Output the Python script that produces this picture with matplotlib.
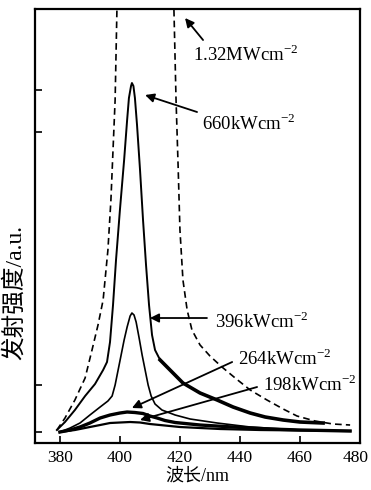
import matplotlib
matplotlib.use('Agg')
import matplotlib.pyplot as plt
from matplotlib.transforms import ScaledTranslation

plt.rcParams['font.family'] = ['Liberation Serif', 'Noto Sans CJK SC']
plt.rcParams['mathtext.fontset'] = 'custom'
plt.rcParams['mathtext.rm'] = 'Liberation Serif'

# spectra (wavelength nm, intensity a.u.)
wl_1320 = [379.0, 381.7, 385.0, 388.4, 390.7, 392.7, 394.4, 396.0, 397.0, 398.4, 399.0,
           405.0,
           418.0, 418.7, 419.4, 420.0, 421.0, 422.4, 424.0, 426.7, 430.0, 434.0, 438.4,
           443.4, 449.0, 454.4, 459.0, 465.0, 471.0, 476.7]
i_1320 = [0.02, 0.14, 0.32, 0.54, 0.82, 1.07, 1.32, 1.82, 2.32, 3.32, 4.22,
          9.0,
          4.22, 3.32, 2.65, 2.02, 1.52, 1.22, 1.02, 0.87, 0.76, 0.65, 0.54,
          0.42, 0.32, 0.23, 0.16, 0.11, 0.08, 0.07]

wl_660 = [379.0, 381.7, 385.0, 388.4, 391.7, 394.4, 395.7, 396.7, 397.7, 398.7, 400.0,
          401.4, 402.4, 403.0, 403.7, 404.0, 404.5, 405.0, 405.7, 406.7, 407.7, 408.7,
          409.7, 410.7, 411.7, 413.4,
          416.7, 421.0, 426.7, 432.4, 437.7, 443.4, 448.4, 454.4, 460.0, 467.7]
i_660 = [0.02, 0.10, 0.22, 0.36, 0.48, 0.62, 0.70, 0.90, 1.27, 1.72, 2.22,
         2.72, 3.12, 3.34, 3.46, 3.49, 3.46, 3.34, 3.07, 2.62, 2.12, 1.67,
         1.27, 0.97, 0.82, 0.72,
         0.62, 0.49, 0.39, 0.32, 0.25, 0.19, 0.15, 0.12, 0.10, 0.09]

wl_396 = [380.0, 383.4, 386.7, 390.0, 393.4, 396.0, 397.4, 398.4, 399.4, 400.4, 401.4,
          402.4, 403.4, 404.0, 404.7, 405.4, 406.4, 407.4, 408.4, 409.4, 410.4, 411.7,
          414.0, 418.4, 423.4, 432.4, 443.4, 460.0, 476.7]
i_396 = [0.0, 0.04, 0.09, 0.17, 0.25, 0.31, 0.36, 0.47, 0.62, 0.77, 0.92,
         1.05, 1.16, 1.19, 1.17, 1.10, 0.94, 0.77, 0.62, 0.47, 0.36, 0.28,
         0.22, 0.17, 0.13, 0.09, 0.05, 0.02, 0.01]

wl_264 = [380.0, 383.4, 386.7, 390.0, 393.4, 396.7, 400.0, 402.4, 405.0, 407.7, 410.0,
          412.4, 415.0, 418.4, 426.7, 437.7, 450.0, 460.0, 476.7]
i_264 = [0.0, 0.02, 0.05, 0.09, 0.14, 0.17, 0.19, 0.20, 0.195, 0.185, 0.16,
         0.14, 0.115, 0.095, 0.07, 0.05, 0.03, 0.02, 0.01]

wl_198 = [380.0, 385.0, 390.0, 393.4, 396.7, 400.0, 403.4, 406.7, 410.0, 415.0, 420.0,
          433.4, 446.7, 476.7]
i_198 = [0.0, 0.02, 0.05, 0.07, 0.09, 0.095, 0.10, 0.095, 0.08, 0.065, 0.05,
         0.03, 0.02, 0.01]

labels = ['1.32MWcm$^{\\mathrm{-2}}$', '660kWcm$^{\\mathrm{-2}}$', '396kWcm$^{\\mathrm{-2}}$',
          '264kWcm$^{\\mathrm{-2}}$', '198kWcm$^{\\mathrm{-2}}$']
label_pos = [(424.4, 3.77), (427.4, 3.08), (431.7, 1.10), (439.4, 0.73), (447.7, 0.47)]
arrow_tail = [(427.7, 3.92), (425.7, 3.20), (429.0, 1.14), (437.4, 0.70), (445.7, 0.45)]
arrow_head = [(421.7, 4.14), (408.4, 3.37), (410.0, 1.14), (404.0, 0.24), (406.7, 0.12)]

xticks = [380, 400, 420, 440, 460, 480]
yticks = [0, 0.47, 3.0, 3.42]

fig = plt.figure(figsize=(3.71, 4.90), dpi=100)
ax = fig.add_axes([0.0943, 0.0959, 0.8761, 0.8857])

ax.plot(wl_1320, i_1320, color='k', linestyle=(0, (4, 2.5)), linewidth=1.2)
ax.plot(wl_660[:26], i_660[:26], color='k', linewidth=1.4)
ax.plot(wl_660[25:], i_660[25:], color='k', linewidth=2.6)
ax.plot(wl_396, i_396, color='k', linewidth=1.2)
ax.plot(wl_264, i_264, color='k', linewidth=2.4)
ax.plot(wl_198, i_198, color='k', linewidth=1.6)

for lab, pos, tail, head in zip(labels, label_pos, arrow_tail, arrow_head):
    ax.annotate('', xy=head, xytext=tail,
                arrowprops=dict(arrowstyle='-|>', color='k', lw=1.3, mutation_scale=13,
                                shrinkA=0, shrinkB=0))
    ax.text(pos[0], pos[1], lab, fontsize=13.5, ha='left', va='center')

ax.set_xlim(371.7, 480.0)
ax.set_ylim(-0.11, 4.23)
ax.set_xticks(xticks)
ax.set_yticks(yticks)
ax.set_yticklabels([])
ax.tick_params(direction='in', length=5, width=1.2, labelsize=12.5)
ax.tick_params(axis='x', pad=5)
for s in ax.spines.values():
    s.set_linewidth(1.6)

# keep the last tick label inside the figure
last = ax.get_xticklabels()[-1]
last.set_transform(last.get_transform() + ScaledTranslation(-3 / 72, 0, fig.dpi_scale_trans))

ax.set_xlabel('波长/nm', fontsize=13, labelpad=1)
fig.text(15 / 371, 1 - 292 / 490, '发射强度/a.u.', rotation=90, fontsize=17,
         ha='center', va='center')

fig.savefig('out.png', dpi=100)
